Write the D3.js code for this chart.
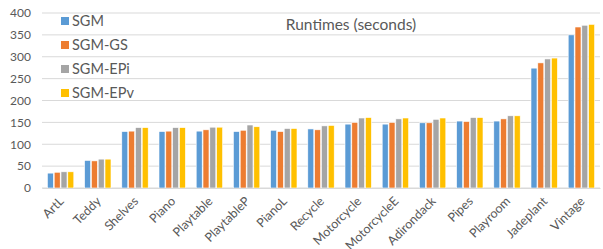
<!DOCTYPE html>
<html lang="en">
    <head>
        <meta charset="utf-8">
        <title>Runtimes (seconds)</title>
        <script type="text/javascript" src="https://d3js.org/d3.v7.min.js"></script>
        <style type="text/css">
            body { margin: 0; background: #fff; }
            text { font-family: Lato, "Open Sans", sans-serif; fill: #595959; }
        </style>
    </head>
    <body>
        <script type="text/javascript">

        // data
        const categories = ["ArtL", "Teddy", "Shelves", "Piano", "Playtable", "PlaytableP", "PianoL", "Recycle",
                            "Motorcycle", "MotorcycleE", "Adirondack", "Pipes", "Playroom", "Jadeplant", "Vintage"];
        const seriesNames = ["SGM", "SGM-GS", "SGM-EPi", "SGM-EPv"];
        const sgm   = [34, 63, 129, 129, 130, 129, 132, 135, 146, 146, 149, 153, 153, 274, 350];
        const sgmGS = [36, 62, 130, 130, 133, 132, 129, 133, 150, 150, 149, 152, 158, 286, 368];
        const sgmEPi = [37, 66, 138, 138, 139, 144, 136, 142, 160, 158, 157, 161, 165, 295, 372];
        const sgmEPv = [37, 66, 138, 138, 139, 140, 136, 143, 161, 160, 160, 161, 165, 297, 374];
        const yTicks = [0, 50, 100, 150, 200, 250, 300, 350, 400];
        const colors = ["#5B9BD5", "#ED7D31", "#A5A5A5", "#FFC000"];

        const width = 603;
        const height = 249;
        const plotLeft = 42, plotRight = 600, plotTop = 13, plotBottom = 188;

        const allSeries = [sgm, sgmGS, sgmEPi, sgmEPv];

        const xScale = d3.scaleBand()
                        .domain(categories)
                        .range([plotLeft, plotRight]);

        const subScale = d3.scaleBand()
                        .domain(seriesNames)
                        .range([5.4, xScale.bandwidth() - 5.4])
                        .paddingInner(0.12);

        const yScale = d3.scaleLinear()
                        .domain([0, 400])
                        .range([plotBottom, plotTop]);

        const svg = d3.select("body")
                    .append("svg")
                    .attr("width", width)
                    .attr("height", height);

        // gridlines
        svg.append("g")
            .selectAll("line")
            .data(yTicks)
            .enter()
            .append("line")
            .attr("x1", plotLeft)
            .attr("x2", plotRight)
            .attr("y1", d => yScale(d))
            .attr("y2", d => yScale(d))
            .attr("stroke", "#d9d9d9")
            .attr("stroke-width", 1);

        // y labels
        const leftAxis = d3.axisLeft(yScale).tickValues(yTicks).tickSize(0).tickPadding(10);
        const gy = svg.append("g")
            .attr("transform", "translate(" + (plotLeft - 1) + ",0)")
            .call(leftAxis);
        gy.select(".domain").remove();
        gy.selectAll("text").style("font-size", "12px").attr("fill", "#595959");

        // bars
        const groups = svg.selectAll("g.cat")
            .data(categories)
            .enter()
            .append("g")
            .attr("class", "cat")
            .attr("transform", d => "translate(" + xScale(d) + ",0)");

        groups.selectAll("rect")
            .data((d, i) => seriesNames.map((s, j) => ({ s: s, v: allSeries[j][i], c: colors[j] })))
            .enter()
            .append("rect")
            .attr("x", d => subScale(d.s))
            .attr("y", d => yScale(d.v))
            .attr("width", subScale.bandwidth())
            .attr("height", d => plotBottom - yScale(d.v))
            .attr("fill", d => d.c)
            .attr("stroke", "#fff")
            .attr("stroke-width", 0.6);

        // x axis
        const bottomAxis = d3.axisBottom(xScale).tickSize(0).tickPadding(0);
        const gx = svg.append("g")
            .attr("transform", "translate(0," + plotBottom + ")")
            .call(bottomAxis);
        gx.select(".domain").attr("stroke", "#d9d9d9");
        gx.selectAll("text")
            .style("font-size", "12.5px")
            .attr("fill", "#595959")
            .attr("text-anchor", "end")
            .attr("dy", "0")
            .attr("transform", "translate(4,14) rotate(-45)");

        // title
        svg.append("text")
            .attr("x", 351)
            .attr("y", 30)
            .attr("text-anchor", "middle")
            .style("font-size", "15.5px")
            .text("Runtimes (seconds)");

        // legend
        const legend = svg.selectAll("g.leg")
            .data(seriesNames)
            .enter()
            .append("g")
            .attr("class", "leg")
            .attr("transform", (d, i) => "translate(61," + (17 + i * 24) + ")");

        legend.append("rect")
            .attr("width", 8)
            .attr("height", 8)
            .attr("fill", (d, i) => colors[i]);

        legend.append("text")
            .attr("x", 11)
            .attr("y", 9)
            .style("font-size", "14.5px")
            .text(d => d);

        </script>
    </body>
</html>
